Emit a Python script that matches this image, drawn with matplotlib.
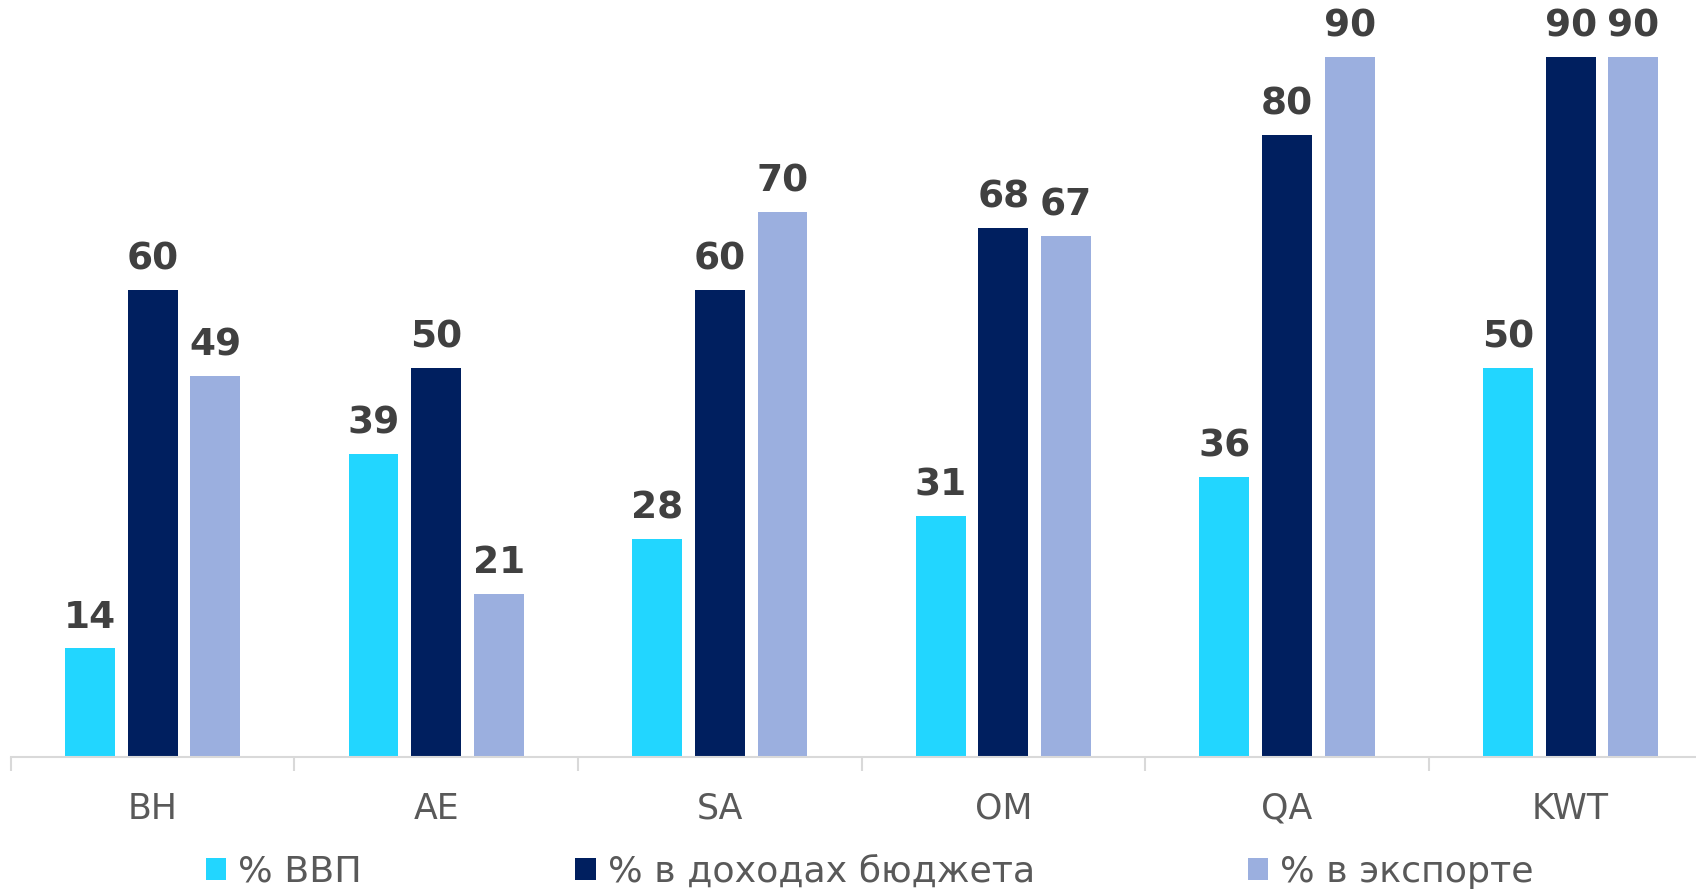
import matplotlib.pyplot as plt
import numpy as np

countries = ['BH', 'AE', 'SA', 'OM', 'QA', 'KWT']
gdp = [14, 39, 28, 31, 36, 50]
budget = [60, 50, 60, 68, 80, 90]
exports = [49, 21, 70, 67, 90, 90]
series_names = ['% ВВП', '% в доходах бюджета', '% в экспорте']

colors = ['#22D6FF', '#001F5F', '#9BAFDF']
label_color = '#404040'
text_color = '#595959'

fig = plt.figure(figsize=(16.96, 8.93), dpi=100)
# axis runs past the right edge like in the original
ax = fig.add_axes([10.8 / 1696, 136 / 893, 6 * 283.6 / 1696, 739 / 893])

x = np.arange(len(countries))
width = 0.1757
step = 0.2213
bars = []
for i, (vals, c) in enumerate(zip([gdp, budget, exports], colors)):
    b = ax.bar(x + (i - 1) * step, vals, width, color=c, label=series_names[i])
    bars.append(b)
    for xi, v in zip(x + (i - 1) * step, vals):
        ax.annotate(str(v), (xi, v), xytext=(0, 9), textcoords='offset points',
                    ha='center', va='bottom', fontsize=27, fontweight='bold',
                    color=label_color)

ax.set_xlim(-0.5, len(countries) - 0.5)
ax.set_ylim(0, 95)
for s in ['top', 'right', 'left']:
    ax.spines[s].set_visible(False)
ax.spines['bottom'].set_color('#d9d9d9')
ax.spines['bottom'].set_linewidth(1.5)
ax.set_yticks([])

ax.set_xticks(x)
ax.set_xticklabels(countries, fontsize=25, color=text_color)
ax.tick_params(axis='x', which='major', length=0, pad=25)
ax.set_xticks(np.arange(-0.5, len(countries), 1.0), minor=True)
ax.tick_params(axis='x', which='minor', length=10, width=1.5, color='#d9d9d9')

fig.legend(handles=bars, labels=series_names, loc='center left',
           bbox_to_anchor=(205.5 / 1696, 1 - 872 / 893), ncol=3, frameon=False,
           fontsize=26.2, labelcolor=text_color, handlelength=0.57, handleheight=0.57,
           handletextpad=0.33, columnspacing=5.85, borderpad=0, borderaxespad=0)

fig.savefig('out.png', dpi=100)
